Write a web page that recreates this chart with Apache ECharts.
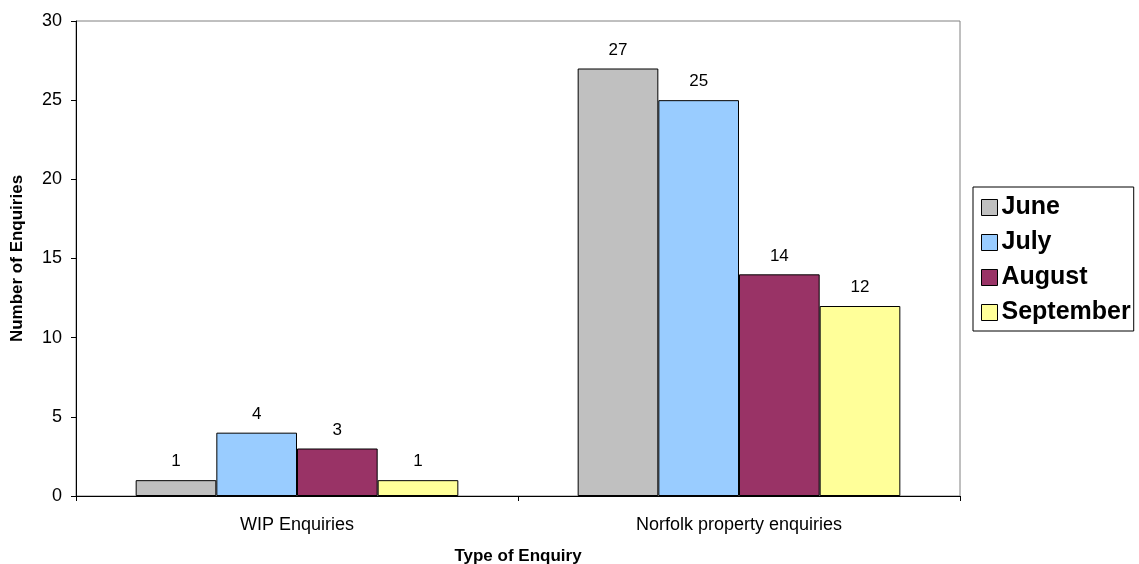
<!DOCTYPE html>
<html>
<head>
<meta charset="utf-8">
<title>Enquiries by type</title>
<script src="https://cdn.jsdelivr.net/npm/echarts@6/dist/echarts.min.js"></script>
<style>
  html, body { margin: 0; padding: 0; background: #ffffff; }
  #chart { width: 1139px; height: 564px; }
</style>
</head>
<body>
<div id="chart"></div>
<script>
// Enquiry types shown along the x axis
const categories = ['WIP Enquiries', 'Norfolk property enquiries'];

// Monthly enquiry counts, one value per category
const june = [1, 27];
const july = [4, 25];
const august = [3, 14];
const september = [1, 12];

const months = ['June', 'July', 'August', 'September'];
const monthValues = [june, july, august, september];
const monthColors = ['#C0C0C0', '#99CCFF', '#993366', '#FFFF99'];

const FONT = '"Liberation Sans", Arial, sans-serif';

const chart = echarts.init(document.getElementById('chart'), null, { renderer: 'canvas' });

const series = months.map((name, i) => ({
  name: name,
  type: 'bar',
  data: monthValues[i],
  barGap: '0%',
  barCategoryGap: '27%',
  itemStyle: { color: monthColors[i], borderColor: '#000000', borderWidth: 1 },
  label: {
    show: true,
    position: 'top',
    distance: 10,
    color: '#000000',
    fontFamily: FONT,
    fontSize: 17
  },
  emphasis: { disabled: true }
}));

chart.setOption({
  animation: false,
  backgroundColor: '#ffffff',
  textStyle: { fontFamily: FONT },
  grid: {
    left: 76,
    right: 179,
    top: 21,
    bottom: 68,
    outerBoundsMode: 'none',
    containLabel: false,
    show: true,
    borderColor: '#808080',
    borderWidth: 1,
    backgroundColor: 'transparent'
  },
  legend: {
    orient: 'vertical',
    left: 973,
    top: 187,
    data: months,
    icon: 'rect',
    itemWidth: 16,
    itemHeight: 16,
    itemGap: 10,
    padding: [8, 3, 6, 8],
    borderColor: '#000000',
    borderWidth: 1,
    backgroundColor: '#ffffff',
    itemStyle: { borderColor: '#000000', borderWidth: 1 },
    textStyle: {
      fontFamily: FONT,
      fontSize: 25,
      fontWeight: 'bold',
      color: '#000000',
      lineHeight: 25,
      padding: [0, 0, 0, -1]
    },
    selectedMode: false
  },
  xAxis: {
    type: 'category',
    data: categories,
    name: 'Type of Enquiry',
    nameLocation: 'middle',
    nameGap: 52,
    nameTextStyle: { fontFamily: FONT, fontSize: 17, fontWeight: 'bold', color: '#000000' },
    axisLine: { show: true, lineStyle: { color: '#000000', width: 1 } },
    axisTick: { show: true, inside: false, length: 5, alignWithLabel: false, lineStyle: { color: '#000000' } },
    axisLabel: { fontFamily: FONT, fontSize: 18, color: '#000000', margin: 20 },
    splitLine: { show: false }
  },
  yAxis: {
    type: 'value',
    min: 0,
    max: 30,
    interval: 5,
    name: 'Number of Enquiries',
    nameLocation: 'middle',
    nameGap: 50,
    nameTextStyle: { fontFamily: FONT, fontSize: 17, fontWeight: 'bold', color: '#000000' },
    axisLine: { show: true, lineStyle: { color: '#000000', width: 1 } },
    axisTick: { show: true, inside: false, length: 5, lineStyle: { color: '#000000' } },
    axisLabel: { fontFamily: FONT, fontSize: 18, color: '#000000', margin: 14 },
    splitLine: { show: false }
  },
  series: series
});
</script>
</body>
</html>
